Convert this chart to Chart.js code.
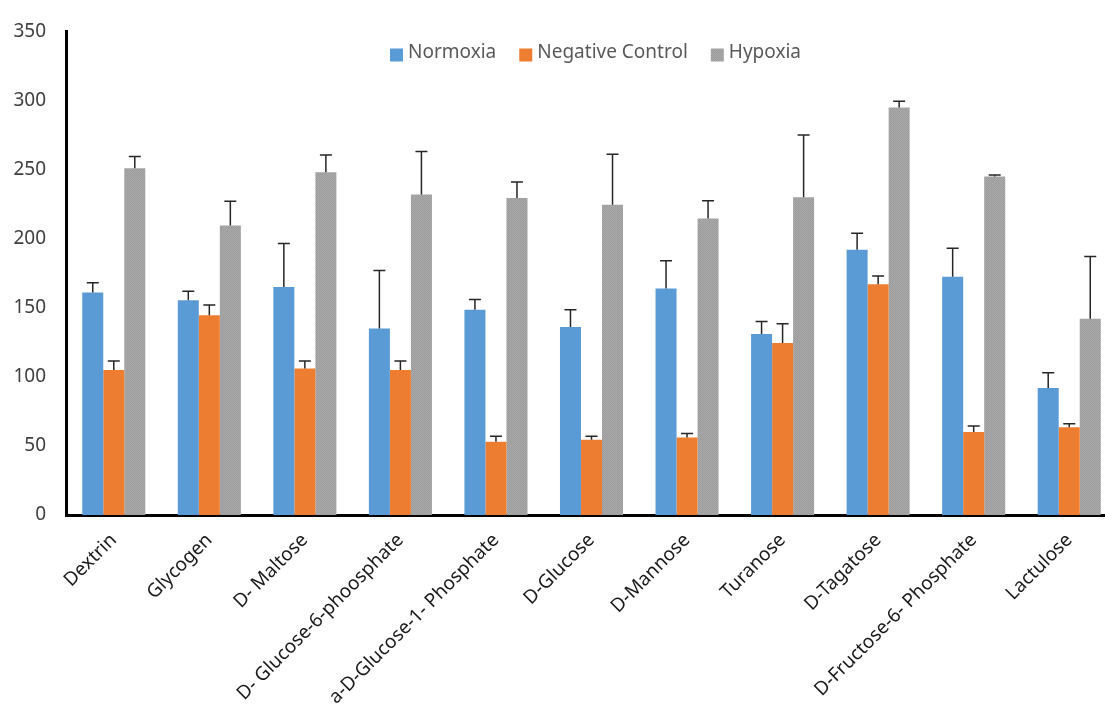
<!DOCTYPE html>
<html>
<head>
<meta charset="utf-8">
<script src="https://cdn.jsdelivr.net/npm/chart.js@4.4.1/dist/chart.umd.min.js"></script>
<style>
    html, body { margin: 0; padding: 0; background: #fff; overflow: hidden; }
    #wrap { position: relative; width: 1117px; height: 709px; }
</style>
</head>
<body>
<div id="wrap"><canvas id="chart"></canvas></div>
<script>
const categories = ['Dextrin', 'Glycogen', 'D- Maltose', 'D- Glucose-6-phoosphate', 'a-D-Glucose-1- Phosphate',
    'D-Glucose', 'D-Mannose', 'Turanose', 'D-Tagatose', 'D-Fructose-6- Phosphate', 'Lactulose'];
const seriesNames = ['Normoxia', 'Negative Control', 'Hypoxia'];

const normoxia = [161, 155.5, 165, 135, 148.5, 136, 164, 131, 192, 172.5, 92];
const negativeControl = [105, 144.5, 106, 105, 53, 54.5, 56, 124.5, 167, 60, 63.5];
const hypoxia = [251, 209.5, 248, 232, 229.5, 224.5, 214.5, 230, 295, 245, 142];

// upper error bars
const normoxiaErr = [7, 6.5, 31.5, 42, 7.5, 12.5, 20, 9, 12, 20.5, 11];
const negativeControlErr = [6.5, 7.5, 5.5, 6.5, 4, 2.5, 3, 14, 6, 4.5, 2.5];
const hypoxiaErr = [8.5, 17.5, 12.5, 31, 11.5, 36.5, 13, 45, 4.5, 1, 45];

const yTicks = [0, 50, 100, 150, 200, 250, 300, 350];

const font = '"Noto Sans", "Open Sans", sans-serif';

function grayPattern() {
    const c = document.createElement('canvas');
    c.width = 2; c.height = 2;
    const g = c.getContext('2d');
    g.fillStyle = '#a9a9a9'; g.fillRect(0, 0, 2, 2);
    g.fillStyle = '#9c9c9c'; g.fillRect(0, 0, 1, 1); g.fillRect(1, 1, 1, 1);
    return g.createPattern(c, 'repeat');
}

const errorBars = {
    id: 'errorBars',
    afterDatasetsDraw(chart) {
        const ctx = chart.ctx;
        const y = chart.scales.y;
        ctx.save();
        ctx.strokeStyle = '#262626';
        ctx.lineWidth = 1.5;
        chart.data.datasets.forEach((ds, di) => {
            const meta = chart.getDatasetMeta(di);
            meta.data.forEach((bar, i) => {
                const top = y.getPixelForValue(ds.data[i] + ds.errors[i]);
                ctx.beginPath();
                ctx.moveTo(bar.x, bar.y);
                ctx.lineTo(bar.x, top);
                ctx.moveTo(bar.x - 6, top);
                ctx.lineTo(bar.x + 6, top);
                ctx.stroke();
            });
        });
        ctx.restore();
    }
};

// legend sits inside the plot, one row near the top
const innerLegend = {
    id: 'innerLegend',
    afterDraw(chart) {
        const ctx = chart.ctx;
        const area = chart.chartArea;
        const box = 13, gap = 5, spacing = 23;
        ctx.save();
        ctx.font = '19px ' + font;
        ctx.textBaseline = 'middle';
        const items = chart.data.datasets.map(ds => ({ label: ds.label, color: ds.backgroundColor, w: ctx.measureText(ds.label).width }));
        let total = 0;
        items.forEach((it, i) => { total += box + gap + it.w + (i ? spacing : 0); });
        let x = (area.left + area.right) / 2 + 4 - total / 2;
        const cy = 53;
        items.forEach(it => {
            ctx.fillStyle = it.color;
            ctx.fillRect(x, cy - box / 2 + 2, box, box);
            x += box + gap;
            ctx.fillStyle = '#595959';
            ctx.fillText(it.label, x, cy);
            x += it.w + spacing;
        });
        ctx.restore();
    }
};

new Chart(document.getElementById('chart'), {
    type: 'bar',
    data: {
        labels: categories,
        datasets: [
            { label: seriesNames[0], data: normoxia, errors: normoxiaErr, backgroundColor: '#5b9bd5' },
            { label: seriesNames[1], data: negativeControl, errors: negativeControlErr, backgroundColor: '#ed7d31' },
            { label: seriesNames[2], data: hypoxia, errors: hypoxiaErr, backgroundColor: grayPattern() }
        ]
    },
    options: {
        responsive: true,
        maintainAspectRatio: false,
        animation: false,
        layout: { padding: { top: 25, left: 0, right: 0, bottom: 0 } },
        datasets: { bar: { categoryPercentage: 0.66, barPercentage: 1.0 } },
        plugins: {
            legend: { display: false },
            tooltip: { enabled: false }
        },
        scales: {
            x: {
                grid: { display: false, drawTicks: false },
                border: { display: true, color: '#000', width: 3 },
                ticks: {
                    autoSkip: false, maxRotation: 45, minRotation: 45, padding: 14,
                    color: '#1a1a1a', font: { family: font, size: 19 }
                },
                afterFit(scale) { scale.height = 194; }
            },
            y: {
                min: 0, max: 350,
                grid: { display: false, drawTicks: false },
                border: { display: true, color: '#000', width: 3 },
                afterBuildTicks(scale) { scale.ticks = yTicks.map(v => ({ value: v })); },
                ticks: { padding: 20, color: '#404040', font: { family: font, size: 19 } },
                afterFit(scale) { scale.width = 66; }
            }
        }
    },
    plugins: [errorBars, innerLegend]
});
</script>
</body>
</html>
